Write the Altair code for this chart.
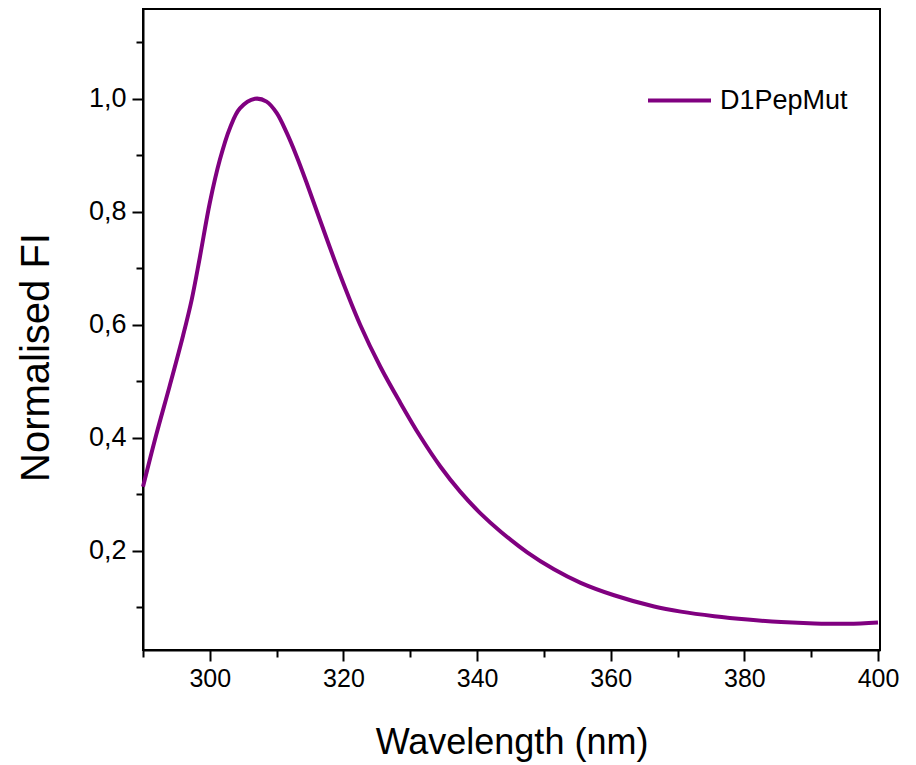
import altair as alt
import pandas as pd

wavelength = [290.0, 292.0, 294.0, 296.0, 297.3, 298.5, 300.0, 301.5, 303.0, 304.5,
              306.75, 308.5, 310.0, 311.5, 313.0, 314.5, 316.5, 319.5, 322.5, 325.5,
              328.5, 331.5, 334.5, 337.5, 340.5, 343.5, 347.5, 351.5, 355.5, 360.5,
              366.5, 370.5, 375.5, 380.5, 385.5, 390.5, 395.5, 400.0]
intensity = [0.313, 0.406, 0.492, 0.581, 0.645, 0.719, 0.816, 0.892, 0.948, 0.983,
             1.000, 0.995, 0.975, 0.940, 0.898, 0.851, 0.785, 0.688, 0.600, 0.526,
             0.462, 0.402, 0.349, 0.304, 0.266, 0.234, 0.197, 0.167, 0.143, 0.121,
             0.101, 0.092, 0.084, 0.078, 0.0735, 0.071, 0.0705, 0.073]
series_name = "D1PepMut"

x_major = [300, 320, 340, 360, 380, 400]
x_minor = [290, 310, 330, 350, 370, 390]
y_major = [0.2, 0.4, 0.6, 0.8, 1.0]
y_minor = [0.1, 0.3, 0.5, 0.7, 0.9, 1.1]

df = pd.DataFrame({"w": wavelength, "v": intensity, "s": [series_name] * len(wavelength)})

FONT = "Liberation Sans, Arial"
xscale = alt.Scale(domain=[290, 400.3], nice=False, zero=False)
yscale = alt.Scale(domain=[0.0241, 1.159], nice=False, zero=False)
label_expr = "replace(format(datum.value, '.1f'), '.', ',')"

main = alt.Chart(df).mark_line(strokeWidth=4, interpolate="catmull-rom").encode(
    x=alt.X("w:Q", scale=xscale,
            axis=alt.Axis(orient="bottom", values=x_major, tickSize=11, labelPadding=5,
                          labelFont=FONT, labelFontSize=25, title="Wavelength (nm)",
                          titleFont=FONT, titleFontSize=36, titleFontWeight="normal",
                          titleY=103, titleBaseline="alphabetic", format="d")),
    y=alt.Y("v:Q", scale=yscale,
            axis=alt.Axis(orient="left", values=y_major, tickSize=11, labelPadding=6,
                          labelFont=FONT, labelFontSize=27, labelExpr=label_expr,
                          title="Normalised FI", titleFont=FONT,
                          titleFontSize=40, titleFontWeight="normal",
                          titleX=-95, titleY=348, titleAlign="center",
                          titleBaseline="alphabetic", titleAngle=270)),
    color=alt.Color("s:N", scale=alt.Scale(range=["#800080"]),
                    legend=alt.Legend(title=None, orient="none", legendX=503, legendY=58,
                                      symbolType="stroke", symbolSize=3969,
                                      symbolStrokeWidth=4, labelFont=FONT,
                                      labelFontSize=27, labelOffset=7, padding=0,
                                      labelColor="black")),
)

minor = alt.Chart(df).mark_line(opacity=0).encode(
    x=alt.X("w:Q", scale=xscale,
            axis=alt.Axis(orient="bottom", values=x_minor, tickSize=7, labels=False,
                          domain=False, title="")),
    y=alt.Y("v:Q", scale=yscale,
            axis=alt.Axis(orient="left", values=y_minor, tickSize=7, labels=False,
                          domain=False, title="")),
)

chart = alt.layer(main, minor).resolve_axis(x="independent", y="independent").properties(
    width=737, height=641,
    autosize=alt.AutoSizeParams(type="none"),
    padding={"left": 135, "top": 1, "right": 28, "bottom": 114},
).configure_view(stroke="black", strokeWidth=2).configure_axis(
    grid=False, domainColor="black", domainWidth=2, tickColor="black", tickWidth=2,
    labelColor="black", titleColor="black",
)

chart.save("out.html", embed_options={"renderer": "svg", "actions": False})
